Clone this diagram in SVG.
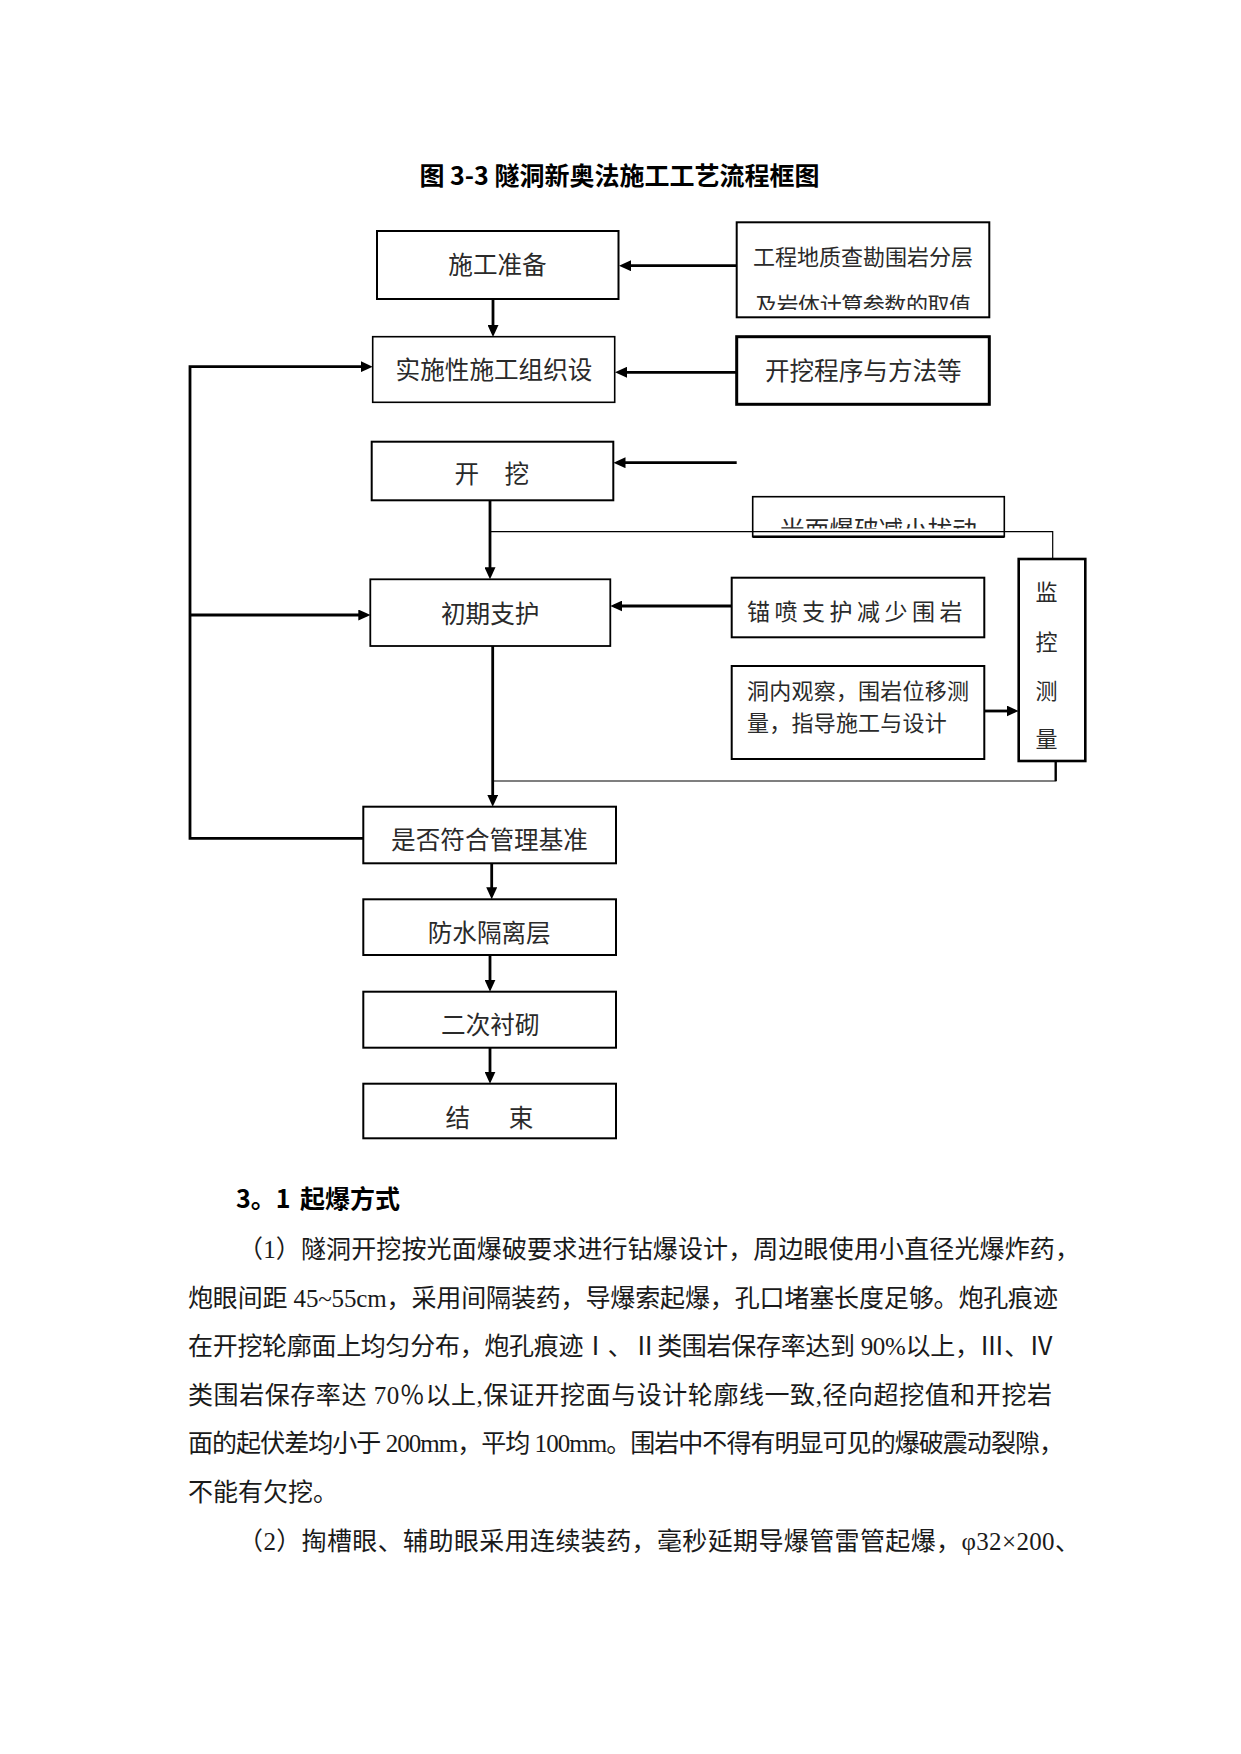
<svg xmlns="http://www.w3.org/2000/svg" width="1241" height="1754" viewBox="0 0 1241 1754">
<defs>
<marker id="ah" markerUnits="userSpaceOnUse" markerWidth="12" markerHeight="11" refX="8" refY="5.5" orient="auto"><path d="M0,0 L12,5.5 L0,11 Z" fill="#000"/></marker>
<clipPath id="clipGeo"><rect x="737" y="223" width="252" height="87"/></clipPath>
<clipPath id="clipGm"><rect x="753" y="497" width="251" height="31.5"/></clipPath>
</defs>
<style>
.box{fill:#fff;stroke:#000;stroke-width:2}
.lbl{font-family:"Noto Sans CJK SC",sans-serif;font-size:24.6px;fill:#2a2a2a;text-anchor:middle}
.sm{font-family:"Noto Sans CJK SC",sans-serif;font-size:22px;fill:#2a2a2a}
.c{fill:none;stroke:#000;stroke-width:2.8}
.ca{fill:none;stroke:#000;stroke-width:2.8;marker-end:url(#ah)}
.thin{fill:none;stroke:#000;stroke-width:1.2}
.body{font-family:"Liberation Serif","Noto Sans CJK SC",serif;font-size:25px;fill:#1a1a1a}
.head{font-family:"Noto Sans CJK SC",sans-serif;font-size:25px;font-weight:bold;fill:#000}
</style>
<rect width="1241" height="1754" fill="#fff"/>

<text class="head" x="619.5" y="185" text-anchor="middle">图 3-3 隧洞新奥法施工工艺流程框图</text>

<g id="nodes">
<g id="n-prep">
<rect class="box" x="377" y="231" width="241.5" height="68"/>
<text class="lbl" x="497.5" y="274.4">施工准备</text>
</g>
<g id="n-geo">
<rect class="box" x="736.7" y="222.3" width="252.6" height="95"/>
<g clip-path="url(#clipGeo)">
<text class="sm" x="753" y="265" textLength="220" lengthAdjust="spacing">工程地质查勘围岩分层</text>
<text class="sm" x="755" y="313.4" textLength="216" lengthAdjust="spacing">及岩体计算参数的取值</text>
</g>
</g>
<g id="n-org">
<rect class="box" x="372.7" y="336.7" width="242" height="65.6" style="stroke-width:1.6"/>
<text class="lbl" x="494" y="379.4">实施性施工组织设</text>
</g>
<g id="n-method">
<rect class="box" x="736.7" y="336.7" width="252.6" height="67.6" style="stroke-width:3"/>
<text class="lbl" x="863.3" y="380.4">开挖程序与方法等</text>
</g>
<g id="n-dig">
<rect class="box" x="371.7" y="441.7" width="241.6" height="58.6"/>
<text class="lbl"><tspan x="466.7" y="483.4">开</tspan><tspan x="516.7" y="483.4">挖</tspan></text>
</g>
<g id="n-blast">
<rect class="box" x="752.7" y="496.7" width="251.6" height="40" style="stroke-width:1.6"/>
<line x1="752.7" y1="536.7" x2="1004.3" y2="536.7" stroke="#000" stroke-width="2.6"/>
<g clip-path="url(#clipGm)">
<text class="lbl" x="878.5" y="539" style="text-anchor:middle">光面爆破减小扰动</text>
</g>
</g>
<g id="n-monitor">
<rect class="box" x="1018.7" y="559" width="66.6" height="202" style="stroke-width:2.6"/>
<text class="sm" text-anchor="middle"><tspan x="1046.5" y="600">监</tspan><tspan x="1046.5" y="650">控</tspan><tspan x="1046.5" y="699">测</tspan><tspan x="1046.5" y="746.5">量</tspan></text>
</g>
<g id="n-support">
<rect class="box" x="370.3" y="579.3" width="240" height="66.7" style="stroke-width:1.8"/>
<text class="lbl" x="490.2" y="622.7">初期支护</text>
</g>
<g id="n-anchor">
<rect class="box" x="731.7" y="577.7" width="252.6" height="59.6"/>
<text class="sm" x="747" y="619.7" style="font-size:23px;letter-spacing:4.5px">锚喷支护减少围岩</text>
</g>
<g id="n-observe">
<rect class="box" x="731.7" y="666" width="252.6" height="93"/>
<text class="sm" x="747" y="699" textLength="222" lengthAdjust="spacing">洞内观察，围岩位移测</text>
<text class="sm" x="747" y="731" textLength="199.8" lengthAdjust="spacing">量，指导施工与设计</text>
</g>
<g id="n-check">
<rect class="box" x="363.3" y="806.7" width="252.7" height="56.6"/>
<text class="lbl" x="489.5" y="849.4">是否符合管理基准</text>
</g>
<g id="n-water">
<rect class="box" x="363.3" y="899.3" width="252.7" height="55.7"/>
<text class="lbl" x="489.2" y="942.4">防水隔离层</text>
</g>
<g id="n-lining">
<rect class="box" x="363.3" y="991.7" width="252.7" height="56"/>
<text class="lbl" x="490.3" y="1034.4">二次衬砌</text>
</g>
<g id="n-end">
<rect class="box" x="363.3" y="1083.7" width="252.7" height="54.6"/>
<text class="lbl"><tspan x="457.7" y="1127.4">结</tspan><tspan x="521" y="1127.4">束</tspan></text>
</g>
</g>

<g id="connectors">
<path class="ca" d="M493,299 V333"/>
<path class="ca" d="M736.7,265.7 H623"/>
<path class="ca" d="M736.7,372.3 H619"/>
<path class="ca" d="M736.7,462.7 H617.5"/>
<path class="ca" d="M363.3,838.3 H190 V366.7 H368.7"/>
<path class="ca" d="M190,615 H366.3"/>
<path class="ca" d="M490,500 V575.3"/>
<path class="thin" d="M490,531.7 H1052.7 V559"/>
<path class="ca" d="M731.7,606 H614.3"/>
<path class="ca" d="M984.3,711 H1014.7"/>
<path class="c" d="M1055.7,761 V781" style="stroke-width:2.4"/>
<path class="thin" d="M1056.5,781 H492.7"/>
<path class="ca" d="M492.7,646 V802.7"/>
<path class="ca" d="M491.7,863.3 V895.3"/>
<path class="ca" d="M490,955 V987.7"/>
<path class="ca" d="M490,1047.7 V1079.7"/>
</g>

<g id="text-section">
<text class="head" y="1207.8"><tspan x="236">3。1</tspan><tspan x="300">起爆方式</tspan></text>
<text class="body" x="238" y="1258" textLength="842" lengthAdjust="spacing">（1）隧洞开挖按光面爆破要求进行钻爆设计，周边眼使用小直径光爆炸药，</text>
<text class="body" x="188" y="1306.6" textLength="870" lengthAdjust="spacing">炮眼间距 45~55cm，采用间隔装药，导爆索起爆，孔口堵塞长度足够。炮孔痕迹</text>
<text class="body" x="188" y="1355.2" textLength="866" lengthAdjust="spacing">在开挖轮廓面上均匀分布，炮孔痕迹Ⅰ、Ⅱ类围岩保存率达到 90%以上，Ⅲ、Ⅳ</text>
<text class="body" x="188" y="1403.8" textLength="864" lengthAdjust="spacing">类围岩保存率达 70％以上,保证开挖面与设计轮廓线一致,径向超挖值和开挖岩</text>
<text class="body" x="188" y="1452.4" textLength="876" lengthAdjust="spacing">面的起伏差均小于 200mm，平均 100mm。围岩中不得有明显可见的爆破震动裂隙，</text>
<text class="body" x="188" y="1501">不能有欠挖。</text>
<text class="body" x="238" y="1549.6" textLength="842" lengthAdjust="spacing">（2）掏槽眼、辅助眼采用连续装药，毫秒延期导爆管雷管起爆，φ32×200、</text>
</g>
</svg>
